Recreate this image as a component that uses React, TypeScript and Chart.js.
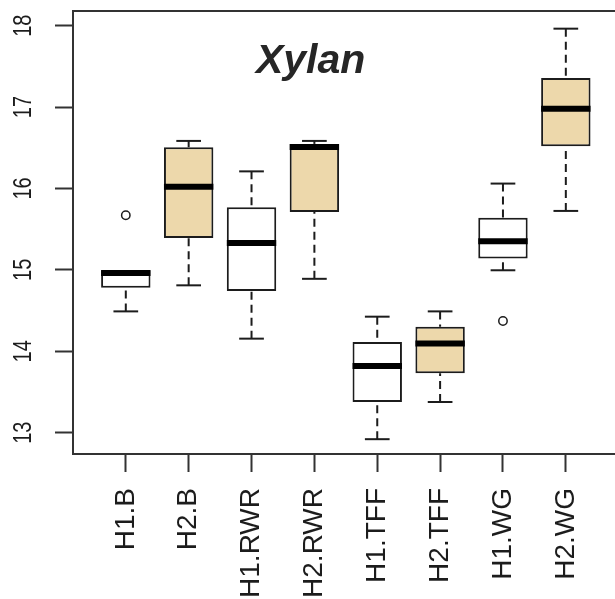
import React, { useEffect, useRef } from 'react';
import { Chart, registerables } from 'chart.js';

Chart.register(...registerables);

// Groups along the x axis (positions 1..8)
const categories = ['H1.B', 'H2.B', 'H1.RWR', 'H2.RWR', 'H1.TFF', 'H2.TFF', 'H1.WG', 'H2.WG'];

// Five-number summaries per group
const lowerWhisker = [14.49, 14.81, 14.155, 14.89, 12.92, 13.377, 14.995, 15.724];
const lowerQuartile = [14.78, 15.39, 14.74, 15.71, 13.377, 13.73, 15.14, 16.518];
const medians = [14.962, 16.02, 15.33, 16.51, 13.82, 14.094, 15.35, 16.98];
const upperQuartile = [14.995, 16.506, 15.77, 16.547, 14.114, 14.3, 15.64, 17.357];
const upperWhisker = [14.995, 16.584, 16.21, 16.584, 14.425, 14.49, 16.06, 17.963];

// Points beyond the whiskers
const outlierGroup = [1, 7];
const outlierValue = [15.67, 14.372];

// Box fill per group: H1 plain, H2 tan
const boxFill = ['#FFFFFF', '#EDD8AB', '#FFFFFF', '#EDD8AB', '#FFFFFF', '#EDD8AB', '#FFFFFF', '#EDD8AB'];

const yTicks = [13, 14, 15, 16, 17, 18];
const titleText = 'Xylan';

const FONT = "'Liberation Sans', Arial, Helvetica, sans-serif";
const INK = '#1c1c1c';

const boxPlotPlugin = {
  id: 'boxPlotExtras',
  afterDatasetsDraw(chart: any) {
    const { ctx, scales } = chart;
    const x = scales.x;
    const y = scales.y;
    const bars = chart.getDatasetMeta(0).data;
    ctx.save();
    ctx.strokeStyle = INK;
    categories.forEach((_, i) => {
      const cx = x.getPixelForValue(i + 1);
      const w = bars[i] ? bars[i].width : 50;
      const staple = w / 2;
      const whiskers: [number, number][] = [
        [upperWhisker[i], upperQuartile[i]],
        [lowerWhisker[i], lowerQuartile[i]],
      ];
      whiskers.forEach(([end, edge]) => {
        if (Math.abs(end - edge) < 1e-6) return;
        const yEnd = y.getPixelForValue(end);
        const yEdge = y.getPixelForValue(edge);
        // dashed whisker from the staple toward the box
        ctx.lineWidth = 2;
        ctx.setLineDash([8, 5]);
        ctx.beginPath();
        ctx.moveTo(cx, yEnd);
        ctx.lineTo(cx, yEdge);
        ctx.stroke();
        // staple
        ctx.setLineDash([]);
        ctx.beginPath();
        ctx.moveTo(cx - staple / 2, yEnd);
        ctx.lineTo(cx + staple / 2, yEnd);
        ctx.stroke();
      });
      // median bar
      const ym = y.getPixelForValue(medians[i]);
      ctx.setLineDash([]);
      ctx.lineWidth = 6;
      ctx.lineCap = 'butt';
      ctx.strokeStyle = '#000000';
      ctx.beginPath();
      ctx.moveTo(cx - w / 2, ym);
      ctx.lineTo(cx + w / 2, ym);
      ctx.stroke();
      ctx.strokeStyle = INK;
    });
    ctx.restore();
  },
  afterDraw(chart: any) {
    const { ctx, chartArea, scales } = chart;
    const x = scales.x;
    const y = scales.y;
    ctx.save();
    // plot frame
    ctx.lineWidth = 2;
    ctx.strokeStyle = '#333333';
    ctx.strokeRect(chartArea.left, chartArea.top, chartArea.right - chartArea.left, chartArea.bottom - chartArea.top);

    // y tick labels, written parallel to the axis
    ctx.fillStyle = INK;
    ctx.font = `20px ${FONT}`;
    ctx.textAlign = 'center';
    ctx.textBaseline = 'middle';
    yTicks.forEach((v) => {
      const py = y.getPixelForValue(v);
      ctx.save();
      ctx.translate(chartArea.left - 50, py);
      ctx.rotate(-Math.PI / 2);
      ctx.scale(1, 1.3);
      ctx.fillText(String(v), 0, 1);
      ctx.restore();
    });

    // panel title
    ctx.fillStyle = '#262626';
    ctx.font = `italic bold 41px ${FONT}`;
    ctx.textAlign = 'center';
    ctx.textBaseline = 'alphabetic';
    ctx.fillText(titleText, x.getPixelForValue(3.94), y.getPixelForValue(17.42));
    ctx.restore();
  },
};

export default function App() {
  const canvasRef = useRef<HTMLCanvasElement | null>(null);

  useEffect(() => {
    if (!canvasRef.current) return;
    const chart = new Chart(canvasRef.current, {
      type: 'bar',
      data: {
        datasets: [
          {
            type: 'bar',
            data: categories.map((_, i) => ({ x: i + 1, y: [lowerQuartile[i], upperQuartile[i]] })) as any,
            backgroundColor: boxFill,
            borderColor: INK,
            borderWidth: 2,
            borderSkipped: false,
            categoryPercentage: 1,
            barPercentage: 0.786,
          } as any,
          {
            type: 'scatter',
            data: outlierGroup.map((g, i) => ({ x: g, y: outlierValue[i] })),
            pointStyle: 'circle',
            pointRadius: 4.2,
            pointBorderWidth: 1.5,
            pointBackgroundColor: '#FFFFFF',
            pointBorderColor: INK,
            showLine: false,
          } as any,
        ],
      },
      options: {
        animation: false,
        responsive: true,
        maintainAspectRatio: false,
        events: [],
        layout: { padding: { top: 11, right: 22, bottom: 0, left: 0 } },
        plugins: {
          legend: { display: false },
          tooltip: { enabled: false },
          title: { display: false },
        },
        scales: {
          x: {
            type: 'linear',
            min: 0.16,
            max: 8.83,
            offset: false,
            afterBuildTicks: (axis: any) => {
              axis.ticks = categories.map((_, i) => ({ value: i + 1 }));
            },
            afterFit: (axis: any) => {
              axis.height = 145;
            },
            border: { display: false },
            grid: {
              offset: false,
              drawOnChartArea: false,
              drawTicks: true,
              tickLength: 18,
              tickWidth: 2,
              tickColor: '#333333',
            },
            ticks: {
              autoSkip: false,
              minRotation: 90,
              maxRotation: 90,
              padding: 16,
              color: INK,
              font: { family: FONT, size: 28 },
              callback: (value: any) => categories[Number(value) - 1] ?? '',
            },
          },
          y: {
            type: 'linear',
            min: 12.738,
            max: 18.18,
            afterBuildTicks: (axis: any) => {
              axis.ticks = yTicks.map((v) => ({ value: v }));
            },
            afterFit: (axis: any) => {
              axis.width = 73;
            },
            border: { display: false },
            grid: {
              drawOnChartArea: false,
              drawTicks: true,
              tickLength: 18,
              tickWidth: 2,
              tickColor: '#333333',
            },
            ticks: { display: false },
          },
        },
      } as any,
      plugins: [boxPlotPlugin],
    });
    return () => chart.destroy();
  }, []);

  return (
    <div style={{ position: 'fixed', left: 0, top: 0, width: 615, height: 599, overflow: 'hidden', background: '#ffffff' }}>
      <div style={{ position: 'relative', width: 640, height: 599 }}>
        <canvas ref={canvasRef} />
      </div>
    </div>
  );
}
